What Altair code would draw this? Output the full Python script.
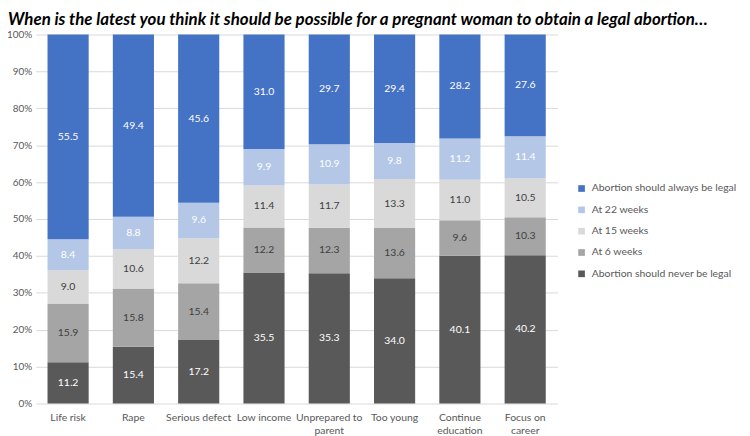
import altair as alt
import pandas as pd

categories = ["Life risk", "Rape", "Serious defect", "Low income",
              "Unprepared to parent", "Too young", "Continue education", "Focus on career"]
tick_labels = {
    "Life risk": ["Life risk"],
    "Rape": ["Rape"],
    "Serious defect": ["Serious defect"],
    "Low income": ["Low income"],
    "Unprepared to parent": ["Unprepared to", "parent"],
    "Too young": ["Too young"],
    "Continue education": ["Continue", "education"],
    "Focus on career": ["Focus on", "career"],
}
series = ["Abortion should never be legal", "At 6 weeks", "At 15 weeks",
          "At 22 weeks", "Abortion should always be legal"]
never = [11.2, 15.4, 17.2, 35.5, 35.3, 34.0, 40.1, 40.2]
w6 = [15.9, 15.8, 15.4, 12.2, 12.3, 13.6, 9.6, 10.3]
w15 = [9.0, 10.6, 12.2, 11.4, 11.7, 13.3, 11.0, 10.5]
w22 = [8.4, 8.8, 9.6, 9.9, 10.9, 9.8, 11.2, 11.4]
always = [55.5, 49.4, 45.6, 31.0, 29.7, 29.4, 28.2, 27.6]
y_ticks = [0, 0.1, 0.2, 0.3, 0.4, 0.5, 0.6, 0.7, 0.8, 0.9, 1.0]

colors = ["#595959", "#A5A5A5", "#D9D9D9", "#B4C7E7", "#4472C4"]

rows = []
for si, vals in enumerate([never, w6, w15, w22, always]):
    for ci, c in enumerate(categories):
        rows.append({"category": c, "series": series[si], "order": si, "value": vals[ci]})
df = pd.DataFrame(rows)

legend_domain = list(reversed(series))
legend_range = list(reversed(colors))

label_map = "{" + ",".join(
    "'" + k + "':[" + ",".join("'" + s + "'" for s in v) + "]" for k, v in tick_labels.items()
) + "}"

FONT = "Lato"

x_axis = alt.Axis(title=None, labelAngle=0, ticks=False, domain=False,
                  labelExpr=label_map + "[datum.label]",
                  labelFont=FONT, labelFontSize=10.5, labelColor="#595959",
                  labelPadding=9, labelLineHeight=13)
y_axis = alt.Axis(title=None, format=".0%", values=y_ticks, labelOverlap=False,
                  ticks=False, domain=False, gridColor="#D9D9D9",
                  labelFont=FONT, labelFontSize=10, labelColor="#595959",
                  labelPadding=4)
x_scale = alt.Scale(paddingInner=0.37, paddingOuter=0.18)
y_scale = alt.Scale(domain=[0, 1])

base = alt.Chart(df)

bars = base.mark_bar().encode(
    x=alt.X("category:N", sort=categories, scale=x_scale, axis=x_axis),
    y=alt.Y("value:Q", stack="normalize", scale=y_scale, axis=y_axis),
    color=alt.Color("series:N", scale=alt.Scale(domain=legend_domain, range=legend_range),
                    legend=alt.Legend(title=None, orient="none", legendX=545, legendY=150,
                                      symbolType="square", symbolSize=45, symbolStrokeWidth=0,
                                      labelFont=FONT, labelFontSize=10.5, labelColor="#595959",
                                      rowPadding=10.5, labelOffset=5)),
    order=alt.Order("order:Q", sort="ascending"),
)

labels = base.transform_joinaggregate(
    total="sum(value)", groupby=["category"]
).transform_window(
    cum="sum(value)", sort=[alt.SortField("order", order="ascending")], groupby=["category"],
    frame=[None, 0]
).transform_calculate(
    mid="(datum.cum - datum.value / 2) / datum.total",
    lbl="format(datum.value, '.1f')"
).mark_text(font=FONT, fontSize=10.5, baseline="middle").encode(
    x=alt.X("category:N", sort=categories, scale=x_scale, axis=x_axis),
    y=alt.Y("mid:Q", scale=y_scale, axis=y_axis),
    text="lbl:N",
    color=alt.condition(
        "datum.series == 'At 15 weeks' || datum.series == 'At 6 weeks'",
        alt.value("#404040"), alt.value("#FFFFFF")),
)

chart = alt.layer(bars, labels).properties(
    width=526, height=372,
    title=alt.TitleParams(
        "When is the latest you think it should be possible for a pregnant woman to obtain a legal abortion…",
        anchor="start", frame="group", dx=-28, dy=11, offset=12,
        font=FONT, fontSize=17, fontWeight="bold", fontStyle="italic", color="#000000"),
    autosize=alt.AutoSizeParams(type="none"),
    padding={"left": 28, "top": 25, "right": 186, "bottom": 31},
).configure_view(stroke=None)

chart.save("out.html", embed_options={"renderer": "svg", "actions": False})
